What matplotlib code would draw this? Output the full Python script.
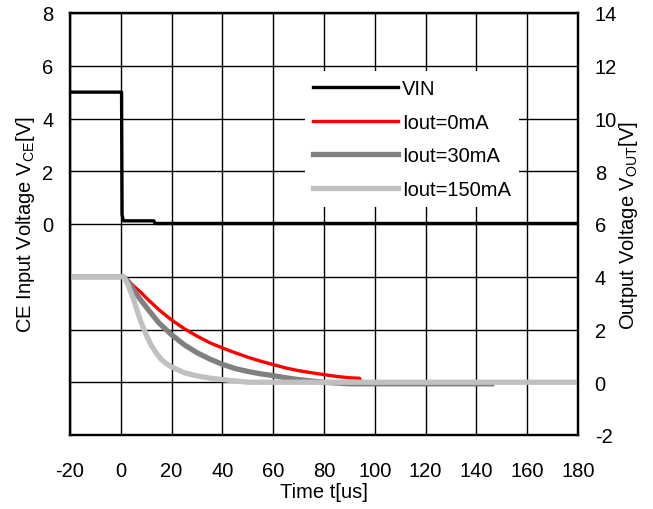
import matplotlib
matplotlib.use("Agg")
import matplotlib.pyplot as plt
from matplotlib.ticker import FixedLocator, FixedFormatter

plt.rcParams['font.family'] = ['Liberation Sans', 'DejaVu Sans']
plt.rcParams['mathtext.fontset'] = 'custom'
plt.rcParams['mathtext.rm'] = 'Liberation Sans'
plt.rcParams['mathtext.it'] = 'Liberation Sans'
plt.rcParams['axes.unicode_minus'] = False

# CE input voltage (left axis)
t_vin = [-20, 0.0, 0.3, 0.5, 1.0, 13.0, 13.5, 180]
v_vin = [5.0, 5.0, 5.0, 0.35, 0.12, 0.12, 0.02, 0.02]

# Output voltage, Iout = 0 mA
t_0ma = [-20, 1, 3, 5, 8, 10, 15, 20, 25, 30, 35, 40, 45, 50, 55, 60,
         65, 70, 75, 80, 85, 90, 94, 94.5, 180]
v_0ma = [4.0, 4.0, 3.85, 3.65, 3.4, 3.2, 2.75, 2.36, 2.03, 1.75, 1.5, 1.3,
         1.12, 0.95, 0.8, 0.67, 0.54, 0.44, 0.36, 0.29, 0.22, 0.17, 0.15,
         0.0, 0.0]

# Output voltage, Iout = 30 mA
t_30ma = [-20, 1, 3, 5, 8, 10, 15, 20, 25, 30, 35, 40, 45, 50, 55, 60,
          65, 70, 75, 80, 90, 146]
v_30ma = [4.0, 4.0, 3.8, 3.5, 3.1, 2.85, 2.25, 1.8, 1.42, 1.12, 0.88, 0.68,
          0.52, 0.41, 0.32, 0.25, 0.17, 0.1, 0.05, 0.0, -0.06, -0.06]

# Output voltage, Iout = 150 mA
t_150ma = [-20, 1, 2, 3, 4, 5, 6, 7, 8, 10, 12, 14, 16, 18, 20, 25, 30,
           35, 40, 45, 50, 180]
v_150ma = [4.0, 4.0, 3.85, 3.65, 3.4, 3.15, 2.85, 2.55, 2.27, 1.8, 1.4, 1.1,
           0.86, 0.7, 0.58, 0.36, 0.24, 0.16, 0.1, 0.05, 0.0, 0.0]

x_ticks = [-20, 0, 20, 40, 60, 80, 100, 120, 140, 160, 180]
left_ticks = [-8, -6, -4, -2, 0, 2, 4, 6, 8]
left_labels = ['', '', '', '', '0', '2', '4', '6', '8']
right_ticks = [-2, 0, 2, 4, 6, 8, 10, 12, 14]

fs = 14.5

fig = plt.figure(figsize=(6.53, 5.10), dpi=100)
ax = fig.add_axes([70 / 653, 1 - 436 / 510, 508 / 653, 422 / 510])
ax2 = ax.twinx()

ax.set_xlim(-20, 180)
ax.set_ylim(-8, 8)
ax2.set_ylim(-2, 14)

ax.xaxis.set_major_locator(FixedLocator(x_ticks))
ax.yaxis.set_major_locator(FixedLocator(left_ticks))
ax.yaxis.set_major_formatter(FixedFormatter(left_labels))
ax2.yaxis.set_major_locator(FixedLocator(right_ticks))

ax.grid(True, color='black', linewidth=1.0)
ax.set_axisbelow(True)

ax.tick_params(axis='x', length=0, pad=19, labelsize=fs)
ax.tick_params(axis='y', length=0, pad=12, labelsize=fs)
ax2.tick_params(axis='y', length=0, pad=12, labelsize=fs)

for a in (ax, ax2):
    for sp in a.spines.values():
        sp.set_linewidth(1.6)
        sp.set_color('black')

l_vin, = ax.plot(t_vin, v_vin, color='black', linewidth=2.4, label='VIN')
l0, = ax2.plot(t_0ma, v_0ma, color='#ff0000', linewidth=2.4,
               label='Iout=0mA')
l30, = ax2.plot(t_30ma, v_30ma, color='#808080', linewidth=3.8,
                label='Iout=30mA')
l150, = ax2.plot(t_150ma, v_150ma, color='#c0c0c0', linewidth=3.8,
                 label='Iout=150mA')

ax.set_xlabel('Time t[us]', fontsize=fs, labelpad=1)
ax.set_ylabel(r'CE Input Voltage V$_{\mathrm{CE}}$[V]', fontsize=fs,
              labelpad=4)
ax2.set_ylabel(r'Output Voltage V$_{\mathrm{OUT}}$[V]', fontsize=fs,
               rotation=90, labelpad=0)

leg = ax2.legend(handles=[l_vin, l0, l30, l150], loc='upper left',
                 bbox_to_anchor=((305 - 70) / 508, (436 - 72) / 422),
                 borderaxespad=0, fontsize=fs, handlelength=4.2,
                 handletextpad=0.2, labelspacing=0.72, borderpad=0.4,
                 frameon=True, fancybox=False, framealpha=1.0)
leg.get_frame().set_edgecolor('none')
leg.get_frame().set_facecolor('white')

fig.savefig('out.png', dpi=100)
